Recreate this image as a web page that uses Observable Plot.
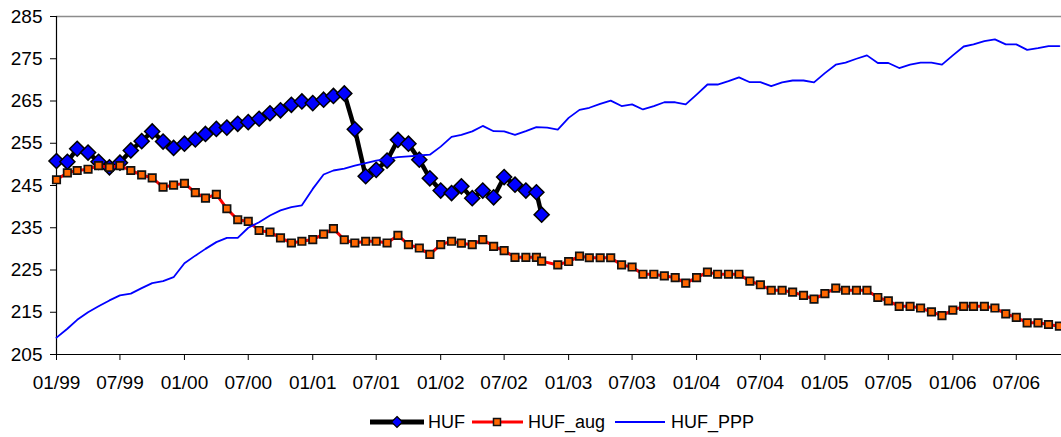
<!DOCTYPE html>
<html><head><meta charset="utf-8">
<script src="https://cdn.jsdelivr.net/npm/d3@7"></script>
<script src="https://cdn.jsdelivr.net/npm/@observablehq/plot@0.6"></script>
<style>
body{margin:0;background:#fff;font-family:"Liberation Sans",Arial,sans-serif;}
#chart{position:relative;width:1061px;height:437px;overflow:hidden;}
#legend{position:absolute;left:370px;top:412px;height:20px;display:flex;align-items:center;font-size:18px;color:#000;white-space:nowrap;}
#legend svg{display:block;}
</style></head><body><div id="chart"></div>
<script>
// ---- data ----
const xTickLabels = ["01/99","07/99","01/00","07/00","01/01","07/01","01/02","07/02","01/03","07/03","01/04","07/04","01/05","07/05","01/06","07/06"];
const yTicks = [205,215,225,235,245,255,265,275,285];
const seriesNames = ["HUF","HUF_aug","HUF_PPP"];
const firstMonth = "1999-01";
const lastMonth = "2006-11";

// HUF: monthly Jan 1999 – Oct 2002, plus one mid-October point
const huf = [250.8,250.6,253.7,252.8,250.6,249.3,250.4,253.3,255.5,257.8,
  255.4,253.9,254.9,255.9,257.2,258.4,258.7,259.6,260.0,260.8,
  262.1,262.8,264.1,264.9,264.5,265.3,266.2,266.8,258.3,247.2,
  248.7,250.9,255.8,254.9,251.1,246.7,243.8,243.2,244.8,242.0,
  243.8,242.2,247.0,245.2,243.8,243.4];
const hufExtraDate = "2002-10-16";
const hufExtra = 238.1;

// HUF_aug: monthly Jan 1999 – Nov 2006 (Nov 2002 missing), plus one mid-October point
const hufAug = [246.35,248.0,248.55,248.85,249.7,249.3,249.7,248.55,247.5,246.8,244.6,245.1,
  245.5,243.3,242.0,242.9,239.5,236.9,236.5,234.35,233.95,232.6,231.4,231.8,
  232.2,233.5,234.8,232.15,231.4,231.8,231.8,231.4,233.2,231.0,230.2,228.7,
  231.0,231.8,231.35,231.0,232.2,230.6,229.6,228.0,228.0,228.0,null,226.2,
  227.0,228.3,227.9,227.9,227.9,226.2,225.7,224.0,224.0,223.6,223.2,221.9,
  223.2,224.5,224.0,224.0,224.0,222.35,221.5,220.2,220.2,219.75,219.0,218.1,
  219.4,220.7,220.2,220.2,220.2,218.5,217.7,216.4,216.4,216.0,215.1,214.2,
  215.5,216.4,216.4,216.4,216.0,214.6,213.8,212.5,212.5,212.1,211.7];
const augExtraDate = "2002-10-16";
const augExtra = 227.1;

// HUF_PPP: monthly Jan 1999 – Nov 2006
const hufPPP = [209.0,211.1,213.2,215.0,216.4,217.8,219.0,219.4,220.7,221.9,222.35,223.3,
  226.6,228.4,230.0,231.6,232.6,232.6,235.0,236.3,237.9,239.1,239.9,240.3,
  244.2,247.6,248.55,249.0,249.7,250.3,250.9,251.3,251.7,251.9,252.1,252.3,
  254.2,256.5,257.0,257.8,259.1,257.85,257.8,257.0,257.85,258.8,258.7,258.25,
  261.0,262.9,263.4,264.3,265.1,263.8,264.2,263.0,263.8,264.7,264.7,264.2,
  266.5,268.9,268.9,269.7,270.6,269.45,269.45,268.5,269.4,269.85,269.85,269.4,
  271.6,273.6,274.1,275.0,275.8,274.0,274.0,272.8,273.6,274.1,274.1,273.6,
  275.8,277.9,278.4,279.15,279.6,278.4,278.4,277.1,277.5,278.0,278.0];

// ---- build tables ----
const pm = d3.utcParse("%Y-%m"), pd = d3.utcParse("%Y-%m-%d"), pt = d3.utcParse("%m/%y");
const months = d3.utcMonth.range(pm(firstMonth), d3.utcMonth.offset(pm(lastMonth), 1));
const hufData = huf.map((v,i)=>({date:months[i], value:v}))
  .concat([{date:pd(hufExtraDate), value:hufExtra}]);
const augData = hufAug.map((v,i)=>({date:months[i], value:v})).filter(d=>d.value!=null)
  .concat([{date:pd(augExtraDate), value:augExtra}])
  .sort((a,b)=>a.date-b.date);
const pppData = hufPPP.map((v,i)=>({date:months[i], value:v}));
const tickDates = xTickLabels.map(s=>pt(s));
const labelOf = new Map(tickDates.map((d,i)=>[+d, xTickLabels[i]]));
const x0 = months[0];
const x1 = d3.utcDay.offset(months[months.length-1], 6);

const chart = Plot.plot({
  width:1061, height:400,
  marginLeft:56, marginRight:0, marginTop:16, marginBottom:46,
  x:{type:"utc", domain:[x0, x1]},
  y:{domain:[yTicks[0], yTicks[yTicks.length-1]]},
  style:{fontFamily:'"Liberation Sans", Arial, sans-serif', color:"#000", background:"#fff", overflow:"visible"},
  marks:[
    Plot.ruleY([yTicks[yTicks.length-1]], {stroke:"#8c8c8c", strokeWidth:1.5}),
    Plot.axisY({ticks:yTicks, tickSize:6, tickPadding:8, label:null, fontSize:19, tickFormat:d=>String(d)}),
    Plot.axisX({ticks:tickDates, tickSize:6, tickPadding:15, label:null, fontSize:19, tickFormat:d=>labelOf.get(+d)}),
    Plot.ruleX([x0], {stroke:"#000", strokeWidth:1.2}),
    Plot.ruleY([yTicks[0]], {stroke:"#000", strokeWidth:1.2}),
    Plot.line(hufData, {x:"date", y:"value", stroke:"#000", strokeWidth:4.5}),
    Plot.dot(hufData, {x:"date", y:"value", symbol:"diamond2", r:6.8, fill:"#0000ff", stroke:"#000", strokeWidth:1.5}),
    Plot.line(augData, {x:"date", y:"value", stroke:"#ff0000", strokeWidth:3}),
    Plot.dot(augData, {x:"date", y:"value", symbol:"square", r:4.2, fill:"#ff6600", stroke:"#111", strokeWidth:1.7}),
    Plot.line(pppData, {x:"date", y:"value", stroke:"#0000ff", strokeWidth:1.8})
  ]
});
const host = document.getElementById("chart");
host.appendChild(chart);

// legend
const leg = document.createElement("div");
leg.id = "legend";
const sw = [
  `<svg width="54" height="20"><line x1="0" x2="54" y1="10" y2="10" stroke="#000" stroke-width="5"/><path d="M27,4.5L32.5,10L27,15.5L21.5,10Z" fill="#0000ff" stroke="#000" stroke-width="1.2"/></svg>`,
  `<svg width="51" height="20"><line x1="0" x2="51" y1="10" y2="10" stroke="#ff0000" stroke-width="3"/><rect x="21.5" y="6.5" width="7" height="7" fill="#ff6600" stroke="#111" stroke-width="1.5"/></svg>`,
  `<svg width="50" height="20"><line x1="0" x2="50" y1="10" y2="10" stroke="#0000ff" stroke-width="2"/></svg>`
];
const gaps = [[4,7],[5,10],[6,0]];
seriesNames.forEach((n,i)=>{
  const s = document.createElement("span");
  s.innerHTML = sw[i];
  s.style.marginRight = gaps[i][0]+"px";
  const t = document.createElement("span");
  t.textContent = n;
  t.style.marginRight = gaps[i][1]+"px";
  t.style.lineHeight = "20px";
  leg.appendChild(s); leg.appendChild(t);
});
host.appendChild(leg);
</script>
</body></html>
